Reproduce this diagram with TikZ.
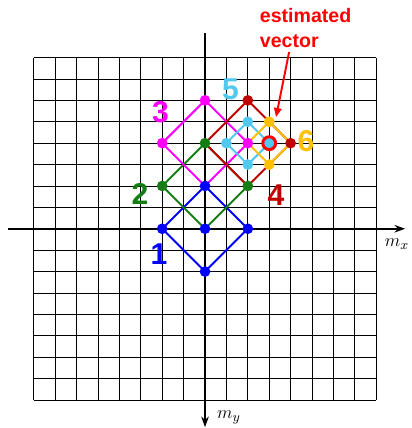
\documentclass[tikz,border=0pt]{standalone}
\usepackage{fontspec}
\newfontfamily\lblfont{Liberation Sans}
\usetikzlibrary{arrows.meta,calc}
\definecolor{vblue}{RGB}{0,0,255}
\definecolor{vgreen}{RGB}{20,125,20}
\definecolor{vmagenta}{RGB}{255,0,255}
\definecolor{vdarkred}{RGB}{192,0,0}
\definecolor{vcyan}{RGB}{80,200,240}
\definecolor{vorange}{RGB}{255,192,0}
\begin{document}
\begin{tikzpicture}[x=0.5cm, y=0.5cm,
    gridline/.style={line width=0.6pt, black, step=0.5cm},
    axis/.style={line width=1.2pt, -{Stealth[length=7pt,width=5pt]}},
    diam/.style={line width=1.3pt},
    dot/.style={circle, inner sep=0pt, minimum size=0.25cm},
    num/.style={font=\lblfont\bfseries\fontsize{20}{24}\selectfont}]
            \useasboundingbox (-9.58,-9.31) rectangle (9.67,10.69);

            % Grid
            \draw[gridline] (-8,-8) grid (8,8);

            % Axes
            \coordinate (xl) at (-9.2,0);
            \coordinate (xr) at (9.35,0);
            \coordinate (yt) at (0,9.14);
            \coordinate (yb) at (0,-9.27);
            \draw[axis] (xl) -- (xr);
            \draw[axis] (yt) -- (yb);
            \node[font=\fontsize{13}{15}\selectfont] (mx) at (8.97,-0.72) {$m_x$};
            \node[font=\fontsize{13}{15}\selectfont] (my) at (1.12,-8.8) {$m_y$};

            % Search diamonds
            \foreach \k/\cx/\cy/\r/\col in {1/0/0/2/vblue, 2/0/2/2/vgreen, 3/0/4/2/vmagenta,
                4/2/4/2/vdarkred, 5/2/4/1/vcyan, 6/3/4/1/vorange}{
                \coordinate (d\k-w) at ({\cx-\r},\cy);
                \coordinate (d\k-n) at (\cx,{\cy+\r});
                \coordinate (d\k-e) at ({\cx+\r},\cy);
                \coordinate (d\k-s) at (\cx,{\cy-\r});
                \draw[diam,\col] (d\k-w) -- (d\k-n) -- (d\k-e) -- (d\k-s) -- cycle;
            }

            % Search points
            \foreach \p/\col in {d1-w/vblue, d1-n/vblue, d1-e/vblue, d1-s/vblue, d2-s/vblue,
                d2-w/vgreen, d2-n/vgreen, d2-e/vgreen,
                d3-w/vmagenta, d3-n/vmagenta, d3-e/vmagenta,
                d4-n/vdarkred, d4-e/vdarkred,
                d5-w/vcyan, d5-n/vcyan, d5-s/vcyan, d5-e/vcyan,
                d6-n/vorange, d6-s/vorange}
                \node[dot, fill=\col] (dot-\p) at (\p) {};

            % Best match
            \node[circle, draw=red, line width=2pt, inner sep=0pt, minimum size=0.3cm] (best) at (dot-d5-e) {};

            % Step numbers
            \node[num, vblue] (n1) at (-2.15,-1.18) {1};
            \node[num, vgreen] (n2) at (-3.04,1.62) {2};
            \node[num, vmagenta] (n3) at (-2.08,5.45) {3};
            \node[num, vdarkred] (n4) at (3.32,1.57) {4};
            \node[num, vcyan] (n5) at (1.19,6.53) {5};
            \node[num, vorange] (n6) at (4.72,4.09) {6};

            % Estimated vector
            \node[font=\lblfont\bfseries\fontsize{13}{16}\selectfont, red, align=left] (est) at (4.70,9.38) {estimated\\vector};
            \coordinate (tail) at (3.93,8.26);
            \coordinate (tip) at (3.32,5.22);
            \draw[red, line width=1.3pt, -{Triangle[length=6pt,width=5pt]}] (tail) -- (tip);
        \end{tikzpicture}
\end{document}
